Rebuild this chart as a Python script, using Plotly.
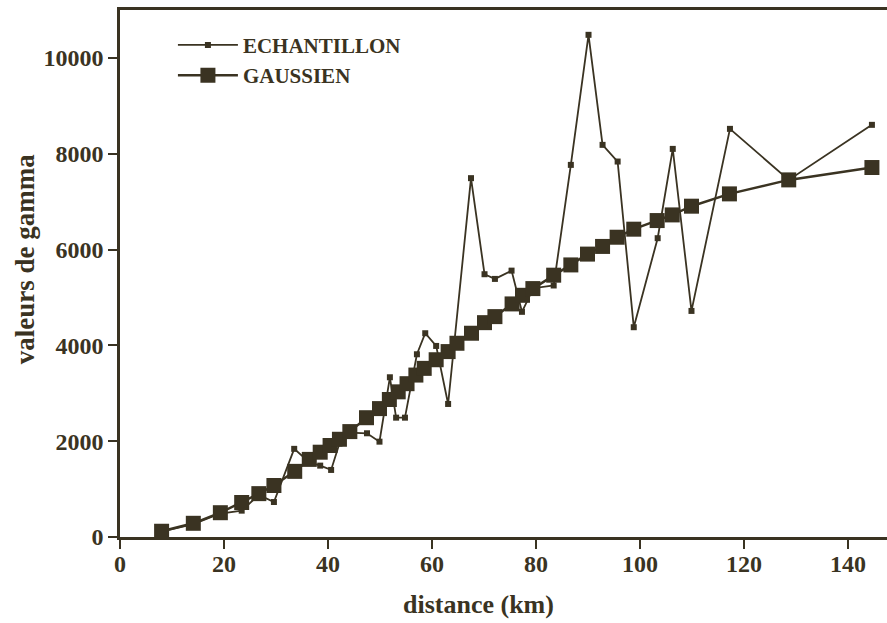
import plotly.graph_objects as go

# ---- data ----
ech_x = [8.0, 14.1, 19.3, 23.4, 26.7, 29.6, 33.5, 36.4, 38.5, 40.6, 42.2, 44.2, 47.5, 49.9,
         51.9, 53.1, 54.8, 57.1, 58.7, 60.8, 63.1, 67.5, 70.1, 72.1, 75.3, 77.3, 79.5, 83.4,
         86.7, 90.1, 92.8, 95.7, 98.8, 103.4, 106.3, 109.9, 117.3, 128.6, 144.6]
ech_y = [110, 270, 490, 550, 880, 730, 1840, 1560, 1490, 1400, 1950, 2180, 2165, 1990,
         3334, 2491, 2491, 3814, 4253, 3988, 2777, 7490, 5485, 5387, 5560, 4700, 5193, 5250,
         7767, 10482, 8185, 7837, 4379, 6237, 8101, 4719, 8519, 7454, 8603]

gau_x = [8.0, 14.1, 19.3, 23.4, 26.7, 29.6, 33.6, 36.4, 38.5, 40.4, 42.2, 44.2, 47.4, 49.9,
         51.8, 53.5, 55.2, 56.9, 58.5, 60.8, 63.1, 64.8, 67.6, 70.1, 72.1, 75.4, 77.4, 79.4,
         83.4, 86.7, 89.9, 92.8, 95.6, 98.8, 103.3, 106.2, 109.9, 117.2, 128.6, 144.6]
gau_y = [120, 286, 507, 720, 905, 1075, 1370, 1620, 1770, 1910, 2040, 2200, 2490, 2680,
         2870, 3030, 3200, 3380, 3520, 3700, 3870, 4044, 4253, 4474, 4600, 4865, 5045, 5185,
         5465, 5679, 5905, 6065, 6257, 6425, 6605, 6723, 6905, 7162, 7454, 7712]

x_ticks = [0, 20, 40, 60, 80, 100, 120, 140]
y_ticks = [0, 2000, 4000, 6000, 8000, 10000]

INK = "#3a3322"
FONT = "Liberation Serif, Times New Roman, serif"

fig = go.Figure()
fig.add_trace(go.Scatter(
    x=ech_x, y=ech_y, name="ECHANTILLON", mode="lines+markers",
    line=dict(color=INK, width=1.8),
    marker=dict(symbol="square", size=6, color=INK),
))
fig.add_trace(go.Scatter(
    x=gau_x, y=gau_y, name="GAUSSIEN", mode="lines+markers",
    line=dict(color=INK, width=2.5),
    marker=dict(symbol="square", size=15, color=INK),
))

axis_common = dict(
    showgrid=False, zeroline=False, showline=True, linecolor=INK, linewidth=2.5,
    ticks="outside", ticklen=9, tickwidth=2, tickcolor=INK,
    tickfont=dict(family=FONT, size=24, color=INK, weight="bold"),
)

fig.update_layout(
    width=887, height=623,
    margin=dict(l=120, r=0, t=10, b=86),
    paper_bgcolor="white", plot_bgcolor="white",
    showlegend=True,
    legend=dict(
        x=0.069, y=0.972, xanchor="left", yanchor="top",
        bgcolor="rgba(0,0,0,0)",
        font=dict(family=FONT, size=21, color=INK, weight="bold"),
        itemwidth=60, tracegroupgap=2,
    ),
    xaxis=dict(range=[0, 147.5], tickvals=x_ticks, ticktext=[str(v) for v in x_ticks],
               mirror=True, ticklabelstandoff=-6, **axis_common),
    yaxis=dict(range=[0, 11000], tickvals=y_ticks, ticktext=[str(v) for v in y_ticks],
               mirror=False, **axis_common),
    annotations=[
        dict(text="distance (km)", xref="paper", yref="paper", x=0.468, y=0,
             yshift=-84, xanchor="center", yanchor="bottom", showarrow=False,
             font=dict(family=FONT, size=26, color=INK, weight="bold")),
        dict(text="valeurs de gamma", xref="paper", yref="paper", x=-0.1239, y=0.527,
             textangle=-90, xanchor="center", yanchor="middle", showarrow=False,
             font=dict(family=FONT, size=27, color=INK, weight="bold")),
    ],
)

fig.write_html("out.html")
